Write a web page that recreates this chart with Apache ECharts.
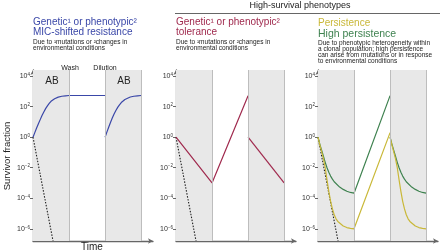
<!DOCTYPE html>
<html lang="en">
<head>
    <meta charset="UTF-8">
    <title>High-survival phenotypes</title>
    <script src="https://cdn.jsdelivr.net/npm/echarts@6/dist/echarts.min.js"></script>
    <style>
        html, body { margin: 0; padding: 0; background: #fff; }
        #chart { width: 440px; height: 252px; }
    </style>
</head>
<body>
    <div id="chart"></div>
    <script type="text/javascript">
        // Axis setup (y values are log10 of survivor fraction)
        const xMax = 3.33;
        const yMin = -6.8;
        const yMax = 4.4;
        const yTicks = [-6, -4, -2, 0, 2, 4];
        const abWindows = [[0, 1], [2, 3]];
        const boundaries = [1, 2, 3];

        // Sensitive population killed by the antibiotic (dotted)
        const killing = [[0, 0], [0.556, -6.8]];

        // Panel 1: MIC-shifted resistance
        const resistFirst = [[0, 0], [0.05, 0.3], [0.1, 0.6], [0.15, 0.88], [0.2, 1.15], [0.25, 1.42], [0.3, 1.65], [0.35, 1.87], [0.4, 2.05], [0.45, 2.21], [0.5, 2.35], [0.55, 2.45], [0.6, 2.52], [0.7, 2.62], [0.8, 2.68], [0.9, 2.71], [1, 2.73], [2, 2.73]];
        const resistSecond = [[2, 0], [2.05, 0.33], [2.1, 0.65], [2.15, 0.96], [2.2, 1.25], [2.25, 1.52], [2.3, 1.75], [2.35, 1.95], [2.4, 2.12], [2.45, 2.27], [2.5, 2.38], [2.55, 2.47], [2.6, 2.54], [2.7, 2.63], [2.8, 2.68], [2.9, 2.71], [3, 2.73]];

        // Panel 2: tolerance
        const tolerFirst = [[0, 0], [1, -3], [2, 2.72]];
        const tolerSecond = [[2, 0], [3, -3]];

        // Panel 3: persistence and high persistence
        const persistFirst = [[0, 0], [0.05, -0.5], [0.1, -0.95], [0.15, -1.4], [0.2, -2.0], [0.25, -2.8], [0.3, -3.55], [0.35, -4.2], [0.4, -4.7], [0.45, -5.08], [0.5, -5.35], [0.55, -5.52], [0.6, -5.65], [0.7, -5.82], [0.8, -5.92], [0.9, -5.97], [1, -6.0], [2, 0.3]];
        const persistSecond = [[2, 0], [2.05, -0.5], [2.1, -0.95], [2.15, -1.4], [2.2, -2.0], [2.25, -2.8], [2.3, -3.55], [2.35, -4.2], [2.4, -4.7], [2.45, -5.08], [2.5, -5.35], [2.55, -5.52], [2.6, -5.65], [2.7, -5.82], [2.8, -5.92], [2.9, -5.97], [3, -6.0]];
        const highFirst = [[0, 0], [0.05, -0.45], [0.1, -0.85], [0.15, -1.25], [0.2, -1.65], [0.25, -2.0], [0.3, -2.3], [0.35, -2.55], [0.4, -2.75], [0.45, -2.92], [0.5, -3.05], [0.6, -3.27], [0.7, -3.42], [0.8, -3.54], [0.9, -3.62], [1, -3.67], [2, 2.72]];
        const highSecond = [[2, 0], [2.05, -0.45], [2.1, -0.85], [2.15, -1.25], [2.2, -1.65], [2.25, -2.0], [2.3, -2.3], [2.35, -2.55], [2.4, -2.75], [2.45, -2.92], [2.5, -3.05], [2.6, -3.27], [2.7, -3.42], [2.8, -3.54], [2.9, -3.62], [3, -3.67]];

        const FONT = '"Liberation Sans", Arial, sans-serif';
        const BLUE = '#3a47a8';
        const RED = '#a02a4e';
        const YELLOW = '#c9b838';
        const GREEN = '#3f8250';
        const panelLeft = [33, 176, 318];

        const chart = echarts.init(document.getElementById('chart'));

        function supLabel(v) {
            const exp = v < 0 ? '\u2212' + Math.abs(v) : String(v);
            return '{b|10}{s|' + exp + '}';
        }

        const grids = panelLeft.map(l => ({ left: l, width: 120, top: 70, height: 171 }));
        const xAxes = panelLeft.map((l, i) => ({
            type: 'value', gridIndex: i, min: 0, max: xMax,
            axisLine: { onZero: false, lineStyle: { color: '#666', width: 1.3 }, symbol: ['none', 'arrow'], symbolSize: [4, 5] },
            axisTick: { show: false }, axisLabel: { show: false }, splitLine: { show: false }
        }));
        const yAxes = panelLeft.map((l, i) => ({
            type: 'value', gridIndex: i, min: yMin, max: yMax,
            axisLine: { show: true, onZero: false, lineStyle: { color: '#666', width: 1.3 }, symbol: ['none', 'arrow'], symbolSize: [4, 5] },
            axisTick: { show: true, customValues: yTicks, length: 3, lineStyle: { color: '#666' } },
            axisLabel: {
                customValues: yTicks, margin: 3, formatter: supLabel,
                rich: {
                    b: { fontSize: 7, fontFamily: FONT, color: '#333' },
                    s: { fontSize: 4.5, fontFamily: FONT, color: '#333', verticalAlign: 'top', padding: [0, 0, 3, 0] }
                }
            },
            splitLine: { show: false }
        }));

        function bgSeries(i) {
            return {
                type: 'line', xAxisIndex: i, yAxisIndex: i, data: [], z: 1, silent: true,
                markArea: {
                    silent: true, itemStyle: { color: '#e8e8e8' },
                    data: abWindows.map(w => [{ xAxis: w[0] }, { xAxis: w[1] }])
                },
                markLine: {
                    silent: true, symbol: 'none', label: { show: false },
                    lineStyle: { color: '#bdbdbd', type: 'solid', width: 1 },
                    data: boundaries.map(b => ({ xAxis: b }))
                }
            };
        }
        function curve(i, data, color, dotted) {
            return {
                type: 'line', xAxisIndex: i, yAxisIndex: i, data: data, z: 3,
                showSymbol: false, smooth: false, clip: true,
                lineStyle: { color: color, width: dotted ? 1.1 : 1.2, type: dotted ? [1.5, 1.5] : 'solid' }
            };
        }

        const series = [
            bgSeries(0), bgSeries(1), bgSeries(2),
            curve(0, killing, '#222', true),
            curve(1, killing, '#222', true),
            curve(2, killing, '#222', true),
            curve(0, resistFirst, BLUE),
            curve(0, resistSecond, BLUE),
            curve(1, tolerFirst, RED),
            curve(1, tolerSecond, RED),
            curve(2, highFirst, GREEN),
            curve(2, highSecond, GREEN),
            curve(2, persistFirst, YELLOW),
            curve(2, persistSecond, YELLOW)
        ];

        function txt(x, y, text, size, color, align, extra) {
            return Object.assign({
                type: 'text', x: x, y: y, z: 10,
                style: { text: text, fill: color, font: size + 'px ' + FONT, textAlign: align || 'left', textVerticalAlign: 'middle' }
            }, extra || {});
        }

        const graphic = [
            txt(300, 6, 'High-survival phenotypes', 9, '#222', 'center'),
            { type: 'line', shape: { x1: 175, y1: 13.5, x2: 440, y2: 13.5 }, style: { stroke: '#666', lineWidth: 1 } },
            // Panel 1
            txt(33, 22, 'Genetic\u00b9 or phenotypic\u00b2', 10, BLUE),
            txt(33, 32, 'MIC-shifted resistance', 10, BLUE),
            txt(33, 42, 'Due to \u00b9mutations or \u00b2changes in', 6.5, '#222'),
            txt(33, 48.5, 'environmental conditions', 6.5, '#222'),
            // Panel 2
            txt(176, 22, 'Genetic\u00b9 or phenotypic\u00b2', 10, RED),
            txt(176, 32, 'tolerance', 10, RED),
            txt(176, 42, 'Due to \u00b9mutations or \u00b2changes in', 6.5, '#222'),
            txt(176, 48.5, 'environmental conditions', 6.5, '#222'),
            // Panel 3
            txt(318, 23, 'Persistence', 10, YELLOW),
            txt(318, 34, 'High persistence', 10.5, GREEN),
            txt(318, 43.5, 'Due to phenotypic heterogeneity within', 6.5, '#222'),
            txt(318, 49.5, 'a clonal population; high persistence', 6.5, '#222'),
            txt(318, 55.5, 'can arise from mutations or in response', 6.5, '#222'),
            txt(318, 61.5, 'to environmental conditions', 6.5, '#222'),
            // Panel 1 annotations
            txt(70, 68, 'Wash', 7, '#222', 'center'),
            txt(105, 68, 'Dilution', 7, '#222', 'center'),
            txt(52, 81, 'AB', 10, '#222', 'center'),
            txt(124, 81, 'AB', 10, '#222', 'center'),
            txt(92, 247, 'Time', 10, '#222', 'center'),
            txt(7, 156, 'Survivor fraction', 9.5, '#222', 'center', { rotation: Math.PI / 2 })
        ];

        chart.setOption({
            animation: false,
            grid: grids,
            xAxis: xAxes,
            yAxis: yAxes,
            series: series,
            graphic: graphic
        });
    </script>
</body>
</html>
